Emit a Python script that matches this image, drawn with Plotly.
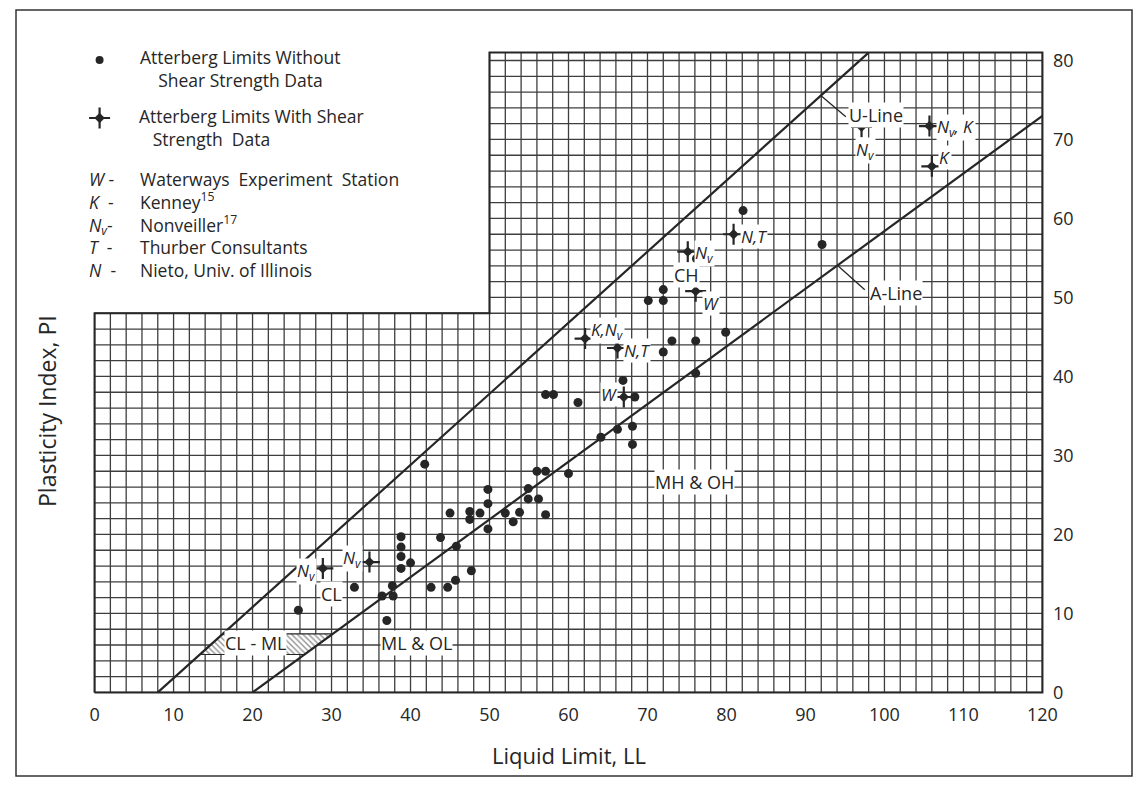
import plotly.graph_objects as go

# ---------------- data ----------------
dots_ll = [25.8, 32.9, 36.4, 37.0, 37.7, 37.8, 38.8, 38.8, 38.8, 38.8, 40.0,
           41.8, 42.6, 43.8, 44.7, 45.0, 45.7, 45.8, 47.5, 47.5, 47.7, 48.8,
           49.8, 49.8, 49.8, 52.0, 53.0, 53.8, 54.9, 54.9, 56.0, 56.2, 57.1,
           57.1, 57.1, 58.1, 60.0, 61.2, 64.1, 66.2, 66.9, 68.1, 68.1, 68.4,
           70.1, 72.0, 72.0, 72.0, 73.1, 76.1, 76.1, 76.2, 79.9, 82.1, 92.1]
dots_pi = [10.4, 13.3, 12.2, 9.1, 13.5, 12.2, 19.7, 18.4, 17.2, 15.7, 16.4,
           28.9, 13.3, 19.6, 13.3, 22.7, 14.2, 18.5, 22.9, 21.9, 15.4, 22.7,
           25.7, 23.9, 20.7, 22.7, 21.6, 22.8, 25.8, 24.5, 28.0, 24.5, 28.0,
           22.5, 37.7, 37.7, 27.7, 36.7, 32.3, 33.3, 39.5, 33.7, 31.4, 37.4,
           49.6, 51.0, 49.6, 43.1, 44.5, 44.5, 40.4, 54.9, 45.6, 61.0, 56.7]

cross_ll = [28.9, 34.8, 62.1, 66.2, 67.0, 75.1, 76.1, 80.9, 97.1, 105.7, 106.0]
cross_pi = [15.7, 16.5, 44.8, 43.6, 37.4, 55.8, 50.8, 58.0, 71.6, 71.7, 66.6]
cross_labels = ["<i>N<sub>v</sub></i>", "<i>N<sub>v</sub></i>", "<i>K,N<sub>v</sub></i>",
                "<i>N,T</i>", "<i>W</i>", "<i>N<sub>v</sub></i>", "<i>W</i>",
                "<i>N,T</i>", "<i>N<sub>v</sub></i>", "<i>N<sub>v</sub>, K</i>", "<i>K</i>"]

x_ticks = list(range(0, 121, 10))
y_ticks = list(range(0, 81, 10))

# chart frame: lower block LL 0-50 / PI 0-48, upper block LL 50-120 / PI 0-81
PI_TOP = 81
PI_STEP = 48

# Casagrande lines: U-line PI = 0.9(LL-8), A-line PI = 0.73(LL-20)
u_ll = [8, 8 + PI_TOP / 0.9]
u_pi = [0, PI_TOP]
a_ll = [20, 120]
a_pi = [0, 0.73 * 100]

legend_keys = ["<i>W</i> -", "<i>K</i>  -", "<i>N<sub>v</sub></i>-", "<i>T</i>  -", "<i>N</i>  -"]
legend_names = ["Waterways  Experiment  Station", "Kenney<sup>15</sup>",
                "Nonveiller<sup>17</sup>", "Thurber Consultants",
                "Nieto, Univ. of Illinois"]
legend_sym_text = ["Atterberg Limits Without<br>&nbsp;&nbsp;&nbsp;&nbsp;Shear Strength Data",
                   "Atterberg Limits With Shear<br>&nbsp;&nbsp;&nbsp;Strength&nbsp; Data"]

# ---------------- layout constants ----------------
W, H = 1146, 791
ML, MR, MT, MB = 93, 102, 51, 97
INK = "#262626"
GRID = "#3e3e3e"
FONT = "Open Sans"
PXU = (H - MT - MB) / (PI_TOP + 0.4)   # pixels per PI unit

def pxx(p):
    return (p - ML) / (W - ML - MR)

def pxy(p):
    return (H - MB - p) / (H - MT - MB)

def px_to_pi(p):
    return (H - MB - p) / PXU - 0.2

fig = go.Figure()

# grid (L-shaped region)
gx, gy = [], []
for x in range(0, 121, 2):
    top = PI_STEP if x < 50 else PI_TOP
    gx += [x, x, None]
    gy += [0, top, None]
for y in range(0, PI_TOP + 1, 2):
    left = 0 if y <= PI_STEP else 50
    gx += [left, 120, None]
    gy += [y, y, None]
fig.add_trace(go.Scatter(x=gx, y=gy, mode="lines", line=dict(color=GRID, width=1.3),
                         hoverinfo="skip", showlegend=False))
# outline
fig.add_trace(go.Scatter(x=[0, 120, 120, 50, 50, 0, 0],
                         y=[0, 0, PI_TOP, PI_TOP, PI_STEP, PI_STEP, 0],
                         mode="lines", line=dict(color=INK, width=2),
                         hoverinfo="skip", showlegend=False))

# CL-ML hatched band
b0, b1 = 4.8, 7.4
band_x = [8 + b0 / 0.9, 20 + b0 / 0.73, 20 + b1 / 0.73, 8 + b1 / 0.9, 8 + b0 / 0.9]
band_y = [b0, b0, b1, b1, b0]
fig.add_trace(go.Scatter(x=band_x, y=band_y, mode="lines", fill="toself",
                         fillcolor="white",
                         fillpattern=dict(shape="\\", fgcolor=INK, bgcolor="white",
                                          size=4, solidity=0.35),
                         line=dict(color=INK, width=1.2),
                         hoverinfo="skip", showlegend=False))

# U-line and A-line
fig.add_trace(go.Scatter(x=u_ll, y=u_pi, mode="lines", line=dict(color=INK, width=2.2),
                         hoverinfo="skip", showlegend=False))
fig.add_trace(go.Scatter(x=a_ll, y=a_pi, mode="lines", line=dict(color=INK, width=2.2),
                         hoverinfo="skip", showlegend=False))

# data points
fig.add_trace(go.Scatter(x=dots_ll, y=dots_pi, mode="markers",
                         marker=dict(symbol="circle", size=9, color=INK),
                         showlegend=False, cliponaxis=False))
# crosses: thin plus with a small diamond centre
fig.add_trace(go.Scatter(x=cross_ll, y=cross_pi, mode="markers",
                         marker=dict(symbol="cross-thin", size=15,
                                     line=dict(color=INK, width=2.2)),
                         showlegend=False, cliponaxis=False, hoverinfo="skip"))
fig.add_trace(go.Scatter(x=cross_ll, y=cross_pi, mode="markers",
                         marker=dict(symbol="diamond", size=8, color=INK),
                         showlegend=False, cliponaxis=False))

# legend symbols (drawn in the blank area of the chart)
lx = (100 - 95) / 7.89
fig.add_trace(go.Scatter(x=[lx], y=[px_to_pi(60)], mode="markers",
                         marker=dict(symbol="circle", size=8, color=INK),
                         showlegend=False, cliponaxis=False, hoverinfo="skip"))
fig.add_trace(go.Scatter(x=[lx], y=[px_to_pi(118)], mode="markers",
                         marker=dict(symbol="cross-thin", size=15,
                                     line=dict(color=INK, width=2.2)),
                         showlegend=False, cliponaxis=False, hoverinfo="skip"))
fig.add_trace(go.Scatter(x=[lx], y=[px_to_pi(118)], mode="markers",
                         marker=dict(symbol="diamond", size=8, color=INK),
                         showlegend=False, cliponaxis=False, hoverinfo="skip"))

ann = []
lab_font = dict(family=FONT, size=17, color=INK)

# point labels (offsets in pixels)
offsets = [("right", -6, -3), ("right", -6, 4), ("left", 5, 8), ("left", 6, -2),
           ("right", -6, 2), ("left", 6, -2), ("left", 6, -12), ("left", 6, -2),
           ("center", 4, -24), ("left", 7, -1), ("left", 6, 9)]
for xv, yv, txt, (anc, dx, dy) in zip(cross_ll, cross_pi, cross_labels, offsets):
    ann.append(dict(x=xv, y=yv, xref="x", yref="y", text=txt, showarrow=False,
                    xanchor=anc, yanchor="middle", xshift=dx, yshift=dy,
                    font=lab_font, bgcolor="white", borderpad=0))

# zone / line labels
for txt, xv, yv in [("U-Line", 98.9, 73.1), ("A-Line", 101.4, 50.6), ("CH", 75.0, 52.9),
                    ("MH & OH", 75.9, 26.6), ("ML & OL", 40.8, 6.2),
                    ("CL - ML", 20.4, 6.2), ("CL", 30.0, 12.5)]:
    ann.append(dict(x=xv, y=yv, xref="x", yref="y", text=txt, showarrow=False,
                    xanchor="center", yanchor="middle",
                    font=dict(family=FONT, size=18, color=INK), bgcolor="white",
                    borderpad=0))

# leaders
for (x0, y0, x1, y1) in [(91.9, 75.6, 95.3, 72.7), (94.0, 54.1, 97.7, 50.8)]:
    ann.append(dict(x=x0, y=y0, ax=x1, ay=y1, xref="x", yref="y", axref="x", ayref="y",
                    showarrow=True, arrowhead=0, arrowwidth=1.3, arrowcolor=INK, text=""))

# legend texts
leg_font = dict(family=FONT, size=17.5, color=INK)
for txt, px, py in [(legend_sym_text[0], 138, 68), (legend_sym_text[1], 137, 128)]:
    ann.append(dict(x=pxx(px), y=pxy(py), xref="paper", yref="paper", text=txt,
                    showarrow=False, xanchor="left", yanchor="middle", align="left",
                    font=leg_font))
ann.append(dict(x=pxx(87), y=pxy(224), xref="paper", yref="paper",
                text="<br>".join(legend_keys), showarrow=False, xanchor="left",
                yanchor="middle", align="left", font=leg_font))
ann.append(dict(x=pxx(138), y=pxy(224), xref="paper", yref="paper",
                text="<br>".join(legend_names), showarrow=False, xanchor="left",
                yanchor="middle", align="left", font=leg_font))

# axis titles
ann.append(dict(x=pxx(569), y=pxy(755), xref="paper", yref="paper", text="Liquid Limit, LL",
                xanchor="center", yanchor="middle",
                showarrow=False, font=dict(family=FONT, size=22, color=INK)))
ann.append(dict(x=pxx(47), y=pxy(411), xref="paper", yref="paper",
                text="Plasticity Index, PI", textangle=-90,
                xanchor="center", yanchor="middle",
                showarrow=False, font=dict(family=FONT, size=23, color=INK)))

fig.update_layout(
    width=W, height=H,
    margin=dict(l=ML, r=MR, t=MT, b=MB, pad=0),
    paper_bgcolor="white", plot_bgcolor="white",
    showlegend=False,
    annotations=ann,
    shapes=[dict(type="rect", xref="paper", yref="paper",
                 x0=pxx(16), x1=pxx(1132), y0=pxy(776), y1=pxy(10),
                 line=dict(color="#333", width=1.5), layer="below")],
    xaxis=dict(range=[-0.2, 120.2], tickvals=x_ticks, ticktext=[str(v) for v in x_ticks],
               showgrid=False, zeroline=False, showline=False, ticks="",
               ticklabelstandoff=8, tickfont=dict(family=FONT, size=18, color=INK),
               fixedrange=True),
    yaxis=dict(range=[-0.2, PI_TOP + 0.2], tickvals=y_ticks,
               ticktext=[str(v) for v in y_ticks],
               side="right", showgrid=False, zeroline=False, showline=False, ticks="",
               ticklabelstandoff=8, tickfont=dict(family=FONT, size=18, color=INK),
               fixedrange=True),
)

fig.write_html("out.html", config={"displayModeBar": False},
               post_script="document.body.style.margin='0';")
